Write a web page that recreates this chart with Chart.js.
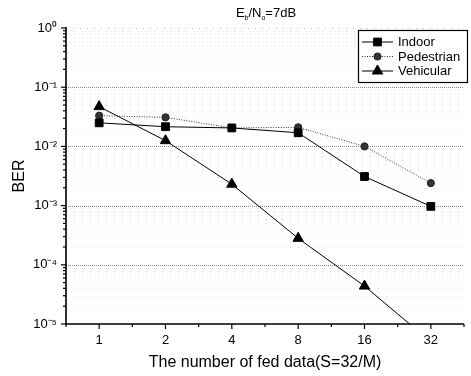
<!DOCTYPE html>
<html><head><meta charset="utf-8">
<script src="https://cdn.jsdelivr.net/npm/chart.js@4/dist/chart.umd.min.js"></script>
<style>html,body{margin:0;padding:0;background:#fff}#c{display:block}</style>
</head><body>
<div style="width:471px;height:376px"><canvas id="c" width="471" height="376"></canvas></div>
<script>
const categories = ['1','2','4','8','16','32'];
const indoor = [0.025, 0.0215, 0.0205, 0.017, 0.0031, 0.00097];
const pedestrian = [0.033, 0.031, 0.0205, 0.021, 0.0100, 0.0024];
const vehicular = [0.047, 0.0125, 0.0023, 0.00028, 0.0000437, 0.000005];
const yTickLabels = {'1':'10⁰','0.1':'10⁻¹','0.01':'10⁻²','0.001':'10⁻³','0.0001':'10⁻⁴','0.00001':'10⁻⁵'};
const FONT = '"Liberation Sans", Arial, sans-serif';

const axesPlugin = {
  id: 'axesPlugin',
  beforeDatasetsDraw(chart) {
    const {ctx, chartArea: a, scales: {x, y}} = chart;
    ctx.save();
    for (let e = -5; e <= 0; e++) {
      for (let m = 1; m <= 9; m++) {
        const v = m * Math.pow(10, e);
        if (v > 1 || v < 1e-5) continue;
        const py = Math.round(y.getPixelForValue(v)) + 0.5;
        ctx.beginPath();
        if (m === 1) {
          if (e === 0 || e === -5) { ctx.strokeStyle = 'rgba(0,0,0,0.25)'; ctx.setLineDash([1,6]); }
          else { ctx.strokeStyle = '#8a8a8a'; ctx.setLineDash([1,1]); }
        } else {
          ctx.strokeStyle = 'rgba(0,0,0,0.17)'; ctx.setLineDash([1,7]);
        }
        ctx.lineWidth = 1;
        ctx.moveTo(a.left, py); ctx.lineTo(a.right, py); ctx.stroke();
      }
    }
    ctx.restore();
  },
  afterDatasetsDraw(chart) {
    const {ctx, chartArea: a, scales: {x, y}} = chart;
    ctx.save();
    ctx.strokeStyle = '#000';
    ctx.setLineDash([]);
    ctx.lineWidth = 1.6;
    ctx.beginPath();
    ctx.moveTo(a.left, a.top - 1); ctx.lineTo(a.left, a.bottom); ctx.lineTo(a.right, a.bottom);
    ctx.stroke();
    ctx.lineWidth = 1.2;
    for (let e = -5; e <= 0; e++) {
      for (let m = 1; m <= 9; m++) {
        const v = m * Math.pow(10, e);
        if (v > 1 || v < 1e-5) continue;
        const py = y.getPixelForValue(v);
        const len = m === 1 ? 5 : 3;
        ctx.beginPath(); ctx.moveTo(a.left, py); ctx.lineTo(a.left - len, py); ctx.stroke();
      }
    }
    for (let i = 0; i <= categories.length; i += 0.5) {
      const px = x.getPixelForValue(i - 0.5);
      const major = Math.abs((i - 0.5) - Math.round(i - 0.5)) < 1e-9;
      const len = major ? 5 : 3;
      ctx.beginPath(); ctx.moveTo(px, a.bottom); ctx.lineTo(px, a.bottom + len); ctx.stroke();
    }
    // title with subscripts
    ctx.fillStyle = '#000';
    ctx.textBaseline = 'alphabetic';
    const big = '13px ' + FONT, small = '7px ' + FONT;
    const parts = [['E', big, 0], ['b', small, 3], ['/N', big, 0], ['o', small, 3], ['=7dB', big, 0]];
    let w = 0;
    parts.forEach(p => { ctx.font = p[1]; w += ctx.measureText(p[0]).width; });
    let tx = (a.left + a.right) / 2 - w / 2 + 1;
    parts.forEach(p => { ctx.font = p[1]; ctx.fillText(p[0], tx, 17 + p[2]); tx += ctx.measureText(p[0]).width; });
    // legend
    const lx = 358, ly = 30, lw = 110, lh = 53;
    ctx.fillStyle = '#fff';
    ctx.fillRect(lx, ly, lw, lh);
    ctx.lineWidth = 1.2; ctx.strokeStyle = '#000';
    ctx.strokeRect(lx + 0.5, ly + 0.5, lw - 1, lh - 1);
    const rows = [42, 56.5, 71];
    chart.data.datasets.forEach((ds, i) => {
      const ry = rows[i];
      ctx.save();
      ctx.strokeStyle = ds.borderColor; ctx.lineWidth = 1;
      ctx.setLineDash(ds.borderDash || []);
      ctx.beginPath(); ctx.moveTo(362, ry); ctx.lineTo(393, ry); ctx.stroke();
      ctx.restore();
      ctx.fillStyle = ds.pointBackgroundColor; ctx.strokeStyle = ds.pointBorderColor; ctx.lineWidth = 1;
      Chart.helpers.drawPoint(ctx, {pointStyle: ds.pointStyle, radius: ds.pointRadius, borderWidth: 1, rotation: 0}, 377.5, ry);
      ctx.fillStyle = '#000'; ctx.font = '13px ' + FONT; ctx.textBaseline = 'middle';
      ctx.fillText(ds.label, 398, ry + 0.5);
    });
    ctx.restore();
  }
};

new Chart(document.getElementById('c'), {
  type: 'line',
  data: {
    labels: categories,
    datasets: [
      {label: 'Indoor', data: indoor, borderColor: '#000', borderWidth: 1, pointStyle: 'rect', pointRadius: 5.5,
       pointBackgroundColor: '#000', pointBorderColor: '#000', tension: 0},
      {label: 'Pedestrian', data: pedestrian, borderColor: '#333', borderWidth: 1, borderDash: [1, 1.5], pointStyle: 'circle', pointRadius: 3.6,
       pointBackgroundColor: '#333', pointBorderColor: '#222', tension: 0},
      {label: 'Vehicular', data: vehicular, borderColor: '#000', borderWidth: 1, pointStyle: 'triangle', pointRadius: 6,
       pointBackgroundColor: '#000', pointBorderColor: '#000', tension: 0}
    ]
  },
  options: {
    responsive: false, animation: false,
    layout: {padding: {left: 0, right: 3, top: 28, bottom: 0}},
    plugins: {legend: {display: false}, tooltip: {enabled: false}, title: {display: false}},
    scales: {
      x: {
        type: 'category', offset: true,
        grid: {display: false, drawTicks: false}, border: {display: false},
        ticks: {color: '#000', font: {family: FONT, size: 13}, padding: 9, maxRotation: 0, autoSkip: false},
        title: {display: true, text: 'The number of fed data(S=32/M)', color: '#000', font: {family: FONT, size: 16}, padding: {top: 0, bottom: 4}},
        afterFit(s) { s.height = 52; }
      },
      y: {
        type: 'logarithmic', min: 1e-5, max: 1,
        grid: {display: false, drawTicks: false}, border: {display: false},
        afterBuildTicks(s) { s.ticks = [1e-5, 1e-4, 1e-3, 1e-2, 1e-1, 1].map(v => ({value: v})); },
        ticks: {color: '#000', font: {family: FONT, size: 13}, padding: 9,
          callback(v) { return yTickLabels[String(v)] || ''; }},
        title: {display: true, text: 'BER', color: '#000', font: {family: FONT, size: 16}, padding: {top: 10, bottom: 0}},
        afterFit(s) { s.width = 66; }
      }
    }
  },
  plugins: [axesPlugin]
});
</script>
</body></html>
